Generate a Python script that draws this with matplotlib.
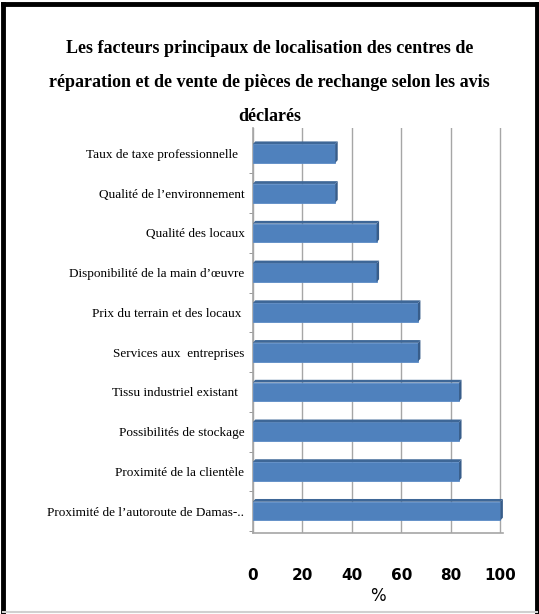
import matplotlib
matplotlib.use("Agg")
import matplotlib.pyplot as plt
from matplotlib.patches import Polygon
from matplotlib.lines import Line2D

categories = [
    "Proximité de l’autoroute de Damas-..",
    "Proximité de la clientèle",
    "Possibilités de stockage",
    "Tissu industriel existant  ",
    "Services aux  entreprises",
    "Prix du terrain et des locaux ",
    "Disponibilité de la main d’œuvre",
    "Qualité des locaux",
    "Qualité de l’environnement",
    "Taux de taxe professionnelle  ",
]
values = [100, 83.3, 83.3, 83.3, 66.7, 66.7, 50, 50, 33.3, 33.3]
xticks = [0, 20, 40, 60, 80, 100]
title = ("Les facteurs principaux de localisation des centres de\n"
         "réparation et de vente de pièces de rechange selon les avis\n"
         "déclarés")
xlabel = "%"

serif = ["Liberation Serif", "DejaVu Serif"]
narrow = ["Liberation Sans Narrow", "DejaVu Sans"]

fig = plt.figure(figsize=(5.39, 6.14), dpi=100)
ax = fig.add_axes([0.469, 0.132, 0.464, 0.66])

face = "#4F81BD"
dark = "#385D8A"
top = "#3E6797"
ypos = list(range(len(categories)))
bh = 0.47
ax.barh(ypos, values, height=bh, color=face, edgecolor="#5B8BC6",
        linewidth=0.6, zorder=3)
# pseudo-3D top and side faces derived from data
dx, dy = 1.0, 0.07
for y, v in zip(ypos, values):
    t = y + bh / 2
    ax.add_patch(Polygon([(0, t), (v, t), (v + dx, t + dy), (dx, t + dy)],
                         closed=True, color=top, zorder=3.5, lw=0))
    ax.add_patch(Polygon([(v, y - bh / 2), (v, t), (v + dx, t + dy),
                          (v + dx, y - bh / 2 + dy)],
                         closed=True, color=dark, zorder=3.5, lw=0))

ax.set_xlim(0, 101)
ax.set_ylim(-0.55, len(categories) - 0.35)
ax.set_xticks(xticks)
ax.set_xticklabels([str(t) for t in xticks], family=narrow,
                   fontsize=11, fontweight="bold")
ax.tick_params(axis="x", length=0, pad=25)
ax.set_yticks(ypos)
ax.set_yticklabels(categories, family=serif, fontsize=9.5)
ax.tick_params(axis="y", length=0, pad=6)
ax.set_yticks([y + 0.5 for y in ypos[:-1]] + [-0.5], minor=True)
ax.tick_params(axis="y", which="minor", length=3, color="#888888")

ax.xaxis.grid(True, color="#A6A6A6", linewidth=1.0, zorder=0)
for s in ["top", "right"]:
    ax.spines[s].set_visible(False)
ax.spines["left"].set_color("#A6A6A6")
ax.spines["bottom"].set_color("#A6A6A6")
ax.spines["left"].set_linewidth(1.2)
ax.spines["bottom"].set_linewidth(1.2)

ax.set_xlabel(xlabel, family=narrow, fontsize=12, labelpad=3)

fig.text(0.50, 0.935, title, ha="center", va="top", family=serif,
         fontsize=13, fontweight="bold", linespacing=2.3)

# chart frame: black left/top/right, light bottom
fl = 0.006
fig.add_artist(Line2D([fl, fl], [0.003, 0.994], transform=fig.transFigure,
                      color="black", lw=3.5))
fig.add_artist(Line2D([fl, 0.996], [0.994, 0.994], transform=fig.transFigure,
                      color="black", lw=3.5))
fig.add_artist(Line2D([0.996, 0.996], [0.003, 0.994], transform=fig.transFigure,
                      color="black", lw=3.5))
fig.add_artist(Line2D([fl, 0.996], [0.003, 0.003], transform=fig.transFigure,
                      color="#D0D0D0", lw=1.5))

fig.savefig("out.png", dpi=100)
